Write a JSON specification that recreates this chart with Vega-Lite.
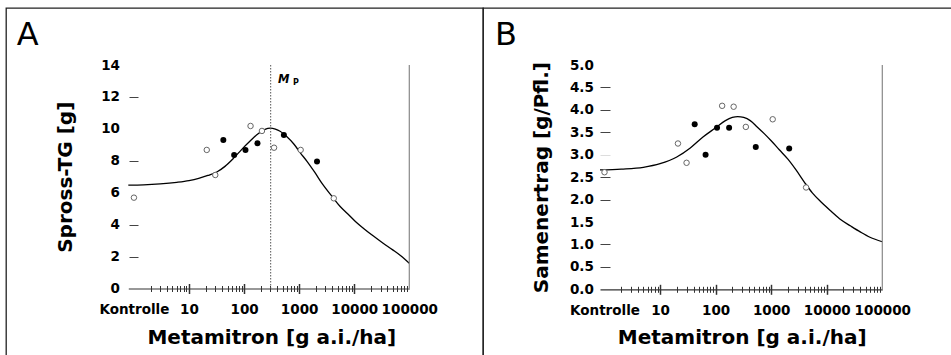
{
  "$schema": "https://vega.github.io/schema/vega-lite/v6.json",
  "padding": {"left": 5, "top": 7, "right": 0, "bottom": 0},
  "background": "white",
  "spacing": 0,
  "bounds": "flush",
  "config": {
    "view": {"stroke": "#222", "strokeWidth": 1.3},
    "font": "DejaVu Sans",
    "axis": {"labelFont": "DejaVu Sans", "labelFontWeight": "bold", "labelFontSize": 13.5, "labelColor": "#000", "titleFont": "DejaVu Sans", "titleFontWeight": "bold", "titleFontSize": 20, "titleColor": "#000", "grid": false}
  },
  "datasets": {
    "ptsA": [
      {"dose": 1, "value": 5.69, "kind": "open"},
      {"dose": 21, "value": 8.68, "kind": "open"},
      {"dose": 30, "value": 7.11, "kind": "open"},
      {"dose": 131, "value": 10.18, "kind": "open"},
      {"dose": 211, "value": 9.87, "kind": "open"},
      {"dose": 350, "value": 8.82, "kind": "open"},
      {"dose": 1065, "value": 8.68, "kind": "open"},
      {"dose": 4250, "value": 5.65, "kind": "open"},
      {"dose": 42, "value": 9.30, "kind": "filled"},
      {"dose": 66, "value": 8.36, "kind": "filled"},
      {"dose": 106, "value": 8.68, "kind": "filled"},
      {"dose": 175, "value": 9.10, "kind": "filled"},
      {"dose": 528, "value": 9.62, "kind": "filled"},
      {"dose": 2110, "value": 7.95, "kind": "filled"}
    ],
    "ptsB": [
      {"dose": 1, "value": 2.61, "kind": "open"},
      {"dose": 21, "value": 3.25, "kind": "open"},
      {"dose": 30, "value": 2.82, "kind": "open"},
      {"dose": 131, "value": 4.09, "kind": "open"},
      {"dose": 211, "value": 4.07, "kind": "open"},
      {"dose": 350, "value": 3.62, "kind": "open"},
      {"dose": 1065, "value": 3.79, "kind": "open"},
      {"dose": 4250, "value": 2.27, "kind": "open"},
      {"dose": 42, "value": 3.68, "kind": "filled"},
      {"dose": 66, "value": 3.00, "kind": "filled"},
      {"dose": 106, "value": 3.60, "kind": "filled"},
      {"dose": 175, "value": 3.60, "kind": "filled"},
      {"dose": 528, "value": 3.17, "kind": "filled"},
      {"dose": 2110, "value": 3.14, "kind": "filled"}
    ],
    "curveA": [
      {"dose": 0.79, "value": 6.47}, {"dose": 1.5, "value": 6.49}, {"dose": 3, "value": 6.55},
      {"dose": 6, "value": 6.65}, {"dose": 10, "value": 6.76}, {"dose": 15, "value": 6.90},
      {"dose": 22, "value": 7.08}, {"dose": 32, "value": 7.30}, {"dose": 45, "value": 7.65},
      {"dose": 64, "value": 8.15}, {"dose": 90, "value": 8.70}, {"dose": 130, "value": 9.25},
      {"dose": 180, "value": 9.70}, {"dose": 240, "value": 9.97}, {"dose": 300, "value": 10.04},
      {"dose": 370, "value": 9.98}, {"dose": 450, "value": 9.85}, {"dose": 600, "value": 9.50},
      {"dose": 800, "value": 9.05}, {"dose": 1050, "value": 8.50}, {"dose": 1400, "value": 7.95},
      {"dose": 1900, "value": 7.30}, {"dose": 2700, "value": 6.50}, {"dose": 4000, "value": 5.75},
      {"dose": 5500, "value": 5.15}, {"dose": 7500, "value": 4.70}, {"dose": 10500, "value": 4.20},
      {"dose": 15000, "value": 3.75}, {"dose": 22000, "value": 3.30}, {"dose": 33000, "value": 2.85},
      {"dose": 50000, "value": 2.42}, {"dose": 70000, "value": 2.05}, {"dose": 100000, "value": 1.58}
    ],
    "curveB": [
      {"dose": 0.83, "value": 2.66}, {"dose": 2, "value": 2.68}, {"dose": 5, "value": 2.72},
      {"dose": 10, "value": 2.80}, {"dose": 20, "value": 2.95}, {"dose": 35, "value": 3.15},
      {"dose": 60, "value": 3.40}, {"dose": 100, "value": 3.60}, {"dose": 150, "value": 3.76},
      {"dose": 200, "value": 3.83}, {"dose": 250, "value": 3.85}, {"dose": 320, "value": 3.83},
      {"dose": 420, "value": 3.76}, {"dose": 560, "value": 3.62}, {"dose": 750, "value": 3.47},
      {"dose": 1000, "value": 3.31}, {"dose": 1400, "value": 3.11}, {"dose": 2000, "value": 2.90},
      {"dose": 2800, "value": 2.66}, {"dose": 4000, "value": 2.38}, {"dose": 5500, "value": 2.15},
      {"dose": 8000, "value": 1.94}, {"dose": 12000, "value": 1.74}, {"dose": 18000, "value": 1.55},
      {"dose": 27000, "value": 1.41}, {"dose": 40000, "value": 1.28}, {"dose": 60000, "value": 1.16},
      {"dose": 100000, "value": 1.06}
    ]
  },
  "hconcat": [
    {
      "width": 477,
      "height": 348,
      "resolve": {"axis": {"x": "independent", "y": "independent"}},
      "layer": [
        {
          "data": {"name": "curveA"},
          "mark": {"type": "line", "color": "#000", "strokeWidth": 1.3, "interpolate": "monotone"},
          "encoding": {
            "x": {"field": "dose", "type": "quantitative",
              "scale": {"type": "log", "domain": [0.79, 100000], "range": [122.3, 403.3], "nice": false},
              "axis": {"orient": "bottom", "offset": -67.5, "values": [1, 10, 100, 1000, 10000, 100000],
                "labelExpr": "datum.value == 1 ? 'Kontrolle' : format(datum.value, 'd')",
                "ticks": false, "tickSize": 0, "labelPadding": 24.5, "labelBaseline": "alphabetic",
                "labelFlush": false, "labelOverlap": false, "labelBound": false,
                "domainColor": "#333", "domainWidth": 1.2,
                "title": "Metamitron [g a.i./ha]", "titleX": 265.3, "titleY": 54.5, "titleBaseline": "alphabetic", "titleAlign": "center"}},
            "y": {"field": "value", "type": "quantitative",
              "scale": {"domain": [0, 14], "range": [280.5, 57], "nice": false, "zero": false},
              "axis": {"orient": "left", "offset": -132, "values": [0, 2, 4, 6, 8, 10, 12, 14], "domain": false,
                "ticks": false, "tickSize": 0, "labelPadding": 18.5, "labelOverlap": false, "labelFlush": false, "labelBound": false,
                "title": "Spross-TG [g]", "titleX": -66.7, "titleAngle": 270, "titleBaseline": "alphabetic", "titleAlign": "center"}}
          }
        },
        {
          "data": {"name": "ptsA"},
          "transform": [{"filter": "datum.kind == 'open'"}],
          "mark": {"type": "point", "shape": "circle", "filled": false, "fill": "#fff", "stroke": "#666", "strokeWidth": 1, "size": 30, "opacity": 1},
          "encoding": {
            "x": {"field": "dose", "type": "quantitative",
              "scale": {"type": "log", "domain": [0.79, 100000], "range": [122.3, 403.3], "nice": false},
              "axis": {"orient": "bottom", "offset": -70.5, "domain": false, "labels": false, "tickSize": 6, "tickColor": "#333", "tickWidth": 1, "title": null,
                "values": [2,3,4,5,6,7,8,9,20,30,40,50,60,70,80,90,200,300,400,500,600,700,800,900,2000,3000,4000,5000,6000,7000,8000,9000,20000,30000,40000,50000,60000,70000,80000,90000]}},
            "y": {"field": "value", "type": "quantitative", "scale": {"domain": [0, 14], "range": [280.5, 57], "nice": false, "zero": false},
              "axis": {"orient": "left", "offset": -132, "values": [2, 4, 8, 12], "domain": false, "labels": false, "ticks": true, "tickSize": 9, "tickColor": "#444", "tickWidth": 1, "title": null}}
          }
        },
        {
          "data": {"name": "ptsA"},
          "transform": [{"filter": "datum.kind == 'filled'"}],
          "mark": {"type": "point", "shape": "circle", "filled": true, "color": "#000", "size": 36, "opacity": 1},
          "encoding": {
            "x": {"field": "dose", "type": "quantitative",
              "scale": {"type": "log", "domain": [0.79, 100000], "range": [122.3, 403.3], "nice": false},
              "axis": {"orient": "bottom", "offset": -72.5, "domain": false, "labels": false, "tickSize": 10, "tickColor": "#333", "tickWidth": 1.5, "title": null,
                "values": [10, 100, 1000, 10000]}},
            "y": {"field": "value", "type": "quantitative", "scale": {"domain": [0, 14], "range": [280.5, 57], "nice": false, "zero": false}, "axis": null}
          }
        },
        {
          "data": {"values": [{}]},
          "mark": {"type": "rule", "color": "#888", "strokeWidth": 1.2},
          "encoding": {
            "x": {"datum": 100000, "type": "quantitative", "scale": {"type": "log", "domain": [0.79, 100000], "range": [122.3, 403.3], "nice": false}, "axis": null},
            "y": {"datum": 0, "type": "quantitative", "scale": {"domain": [0, 14], "range": [280.5, 57], "nice": false, "zero": false}, "axis": null},
            "y2": {"datum": 14}
          }
        },
        {
          "data": {"values": [{}]},
          "mark": {"type": "rule", "color": "#555", "strokeWidth": 1, "strokeDash": [1.5, 1.5]},
          "encoding": {
            "x": {"datum": 304, "type": "quantitative", "scale": {"type": "log", "domain": [0.79, 100000], "range": [122.3, 403.3], "nice": false}, "axis": null},
            "y": {"datum": 0, "type": "quantitative", "scale": {"domain": [0, 14], "range": [280.5, 57], "nice": false, "zero": false}, "axis": null},
            "y2": {"datum": 14}
          }
        },
        {
          "data": {"values": [{}]},
          "mark": {"type": "text", "text": "M", "font": "DejaVu Sans", "fontWeight": "bold", "fontStyle": "italic", "fontSize": 11.5, "align": "left", "baseline": "alphabetic", "dx": 7.4, "dy": 18.3, "color": "#000"},
          "encoding": {
            "x": {"datum": 304, "type": "quantitative", "scale": {"type": "log", "domain": [0.79, 100000], "range": [122.3, 403.3], "nice": false}, "axis": null},
            "y": {"datum": 14, "type": "quantitative", "scale": {"domain": [0, 14], "range": [280.5, 57], "nice": false, "zero": false}, "axis": null}
          }
        },
        {
          "data": {"values": [{}]},
          "mark": {"type": "text", "text": "P", "font": "DejaVu Sans", "fontWeight": "bold", "fontSize": 8, "align": "left", "baseline": "alphabetic", "dx": 22.3, "dy": 20, "color": "#000"},
          "encoding": {
            "x": {"datum": 304, "type": "quantitative", "scale": {"type": "log", "domain": [0.79, 100000], "range": [122.3, 403.3], "nice": false}, "axis": null},
            "y": {"datum": 14, "type": "quantitative", "scale": {"domain": [0, 14], "range": [280.5, 57], "nice": false, "zero": false}, "axis": null}
          }
        },
        {
          "data": {"values": [{}]},
          "mark": {"type": "text", "text": "A", "font": "DejaVu Sans", "fontWeight": "normal", "fontSize": 32, "align": "left", "baseline": "alphabetic", "dx": -111.6, "dy": -20, "color": "#000"},
          "encoding": {
            "x": {"datum": 0.79, "type": "quantitative", "scale": {"type": "log", "domain": [0.79, 100000], "range": [122.3, 403.3], "nice": false}, "axis": null},
            "y": {"datum": 14, "type": "quantitative", "scale": {"domain": [0, 14], "range": [280.5, 57], "nice": false, "zero": false}, "axis": null}
          }
        }
      ]
    },
    {
      "width": 469,
      "height": 348,
      "resolve": {"axis": {"x": "independent", "y": "independent"}},
      "layer": [
        {
          "data": {"name": "curveB"},
          "mark": {"type": "line", "color": "#000", "strokeWidth": 1.3, "interpolate": "monotone"},
          "encoding": {
            "x": {"field": "dose", "type": "quantitative",
              "scale": {"type": "log", "domain": [0.83, 100000], "range": [117, 399.3], "nice": false},
              "axis": {"orient": "bottom", "offset": -66.7, "values": [1, 10, 100, 1000, 10000, 100000],
                "labelExpr": "datum.value == 1 ? 'Kontrolle' : format(datum.value, 'd')",
                "ticks": false, "tickSize": 0, "labelPadding": 24.7, "labelBaseline": "alphabetic",
                "labelFlush": false, "labelOverlap": false, "labelBound": false,
                "domainColor": "#333", "domainWidth": 1.2,
                "title": "Metamitron [g a.i./ha]", "titleX": 258.7, "titleY": 54, "titleBaseline": "alphabetic", "titleAlign": "center"}},
            "y": {"field": "value", "type": "quantitative",
              "scale": {"domain": [0, 5], "range": [281.3, 57], "nice": false, "zero": false},
              "axis": {"orient": "left", "offset": -127, "values": [0, 0.5, 1, 1.5, 2, 2.5, 3, 3.5, 4, 4.5, 5], "format": ".1f", "domain": false,
                "ticks": false, "tickSize": 0, "labelPadding": 16.7, "labelOverlap": false, "labelFlush": false, "labelBound": false,
                "title": "Samenertrag [g/Pfl.]", "titleX": -62.1, "titleAngle": 270, "titleBaseline": "alphabetic", "titleAlign": "center"}}
          }
        },
        {
          "data": {"name": "ptsB"},
          "transform": [{"filter": "datum.kind == 'open'"}],
          "mark": {"type": "point", "shape": "circle", "filled": false, "fill": "#fff", "stroke": "#666", "strokeWidth": 1, "size": 30, "opacity": 1},
          "encoding": {
            "x": {"field": "dose", "type": "quantitative",
              "scale": {"type": "log", "domain": [0.83, 100000], "range": [117, 399.3], "nice": false},
              "axis": {"orient": "bottom", "offset": -69.7, "domain": false, "labels": false, "tickSize": 6, "tickColor": "#333", "tickWidth": 1, "title": null,
                "values": [2,3,4,5,6,7,8,9,20,30,40,50,60,70,80,90,200,300,400,500,600,700,800,900,2000,3000,4000,5000,6000,7000,8000,9000,20000,30000,40000,50000,60000,70000,80000,90000]}},
            "y": {"field": "value", "type": "quantitative", "scale": {"domain": [0, 5], "range": [281.3, 57], "nice": false, "zero": false},
              "axis": {"orient": "left", "offset": -127, "values": [0.5, 1, 2, 2.5, 3.5, 4, 4.5], "domain": false, "labels": false, "ticks": true, "tickSize": 10, "tickColor": "#444", "tickWidth": 1, "title": null}}
          }
        },
        {
          "data": {"name": "ptsB"},
          "transform": [{"filter": "datum.kind == 'filled'"}],
          "mark": {"type": "point", "shape": "circle", "filled": true, "color": "#000", "size": 36, "opacity": 1},
          "encoding": {
            "x": {"field": "dose", "type": "quantitative",
              "scale": {"type": "log", "domain": [0.83, 100000], "range": [117, 399.3], "nice": false},
              "axis": {"orient": "bottom", "offset": -71.7, "domain": false, "labels": false, "tickSize": 10, "tickColor": "#333", "tickWidth": 1.5, "title": null,
                "values": [10, 100, 1000, 10000]}},
            "y": {"field": "value", "type": "quantitative", "scale": {"domain": [0, 5], "range": [281.3, 57], "nice": false, "zero": false},
              "axis": {"orient": "left", "offset": -127, "values": [3], "domain": false, "labels": false, "ticks": true, "tickSize": 10, "tickColor": "#ddd", "tickWidth": 1, "title": null}}
          }
        },
        {
          "data": {"values": [{}]},
          "mark": {"type": "rule", "color": "#888", "strokeWidth": 1.2},
          "encoding": {
            "x": {"datum": 100000, "type": "quantitative", "scale": {"type": "log", "domain": [0.83, 100000], "range": [117, 399.3], "nice": false}, "axis": null},
            "y": {"datum": 0, "type": "quantitative", "scale": {"domain": [0, 5], "range": [281.3, 57], "nice": false, "zero": false}, "axis": null},
            "y2": {"datum": 5}
          }
        },
        {
          "data": {"values": [{}]},
          "mark": {"type": "text", "text": "B", "font": "DejaVu Sans", "fontWeight": "normal", "fontSize": 32, "align": "left", "baseline": "alphabetic", "dx": -105, "dy": -20, "color": "#000"},
          "encoding": {
            "x": {"datum": 0.83, "type": "quantitative", "scale": {"type": "log", "domain": [0.83, 100000], "range": [117, 399.3], "nice": false}, "axis": null},
            "y": {"datum": 5, "type": "quantitative", "scale": {"domain": [0, 5], "range": [281.3, 57], "nice": false, "zero": false}, "axis": null}
          }
        }
      ]
    }
  ]
}
